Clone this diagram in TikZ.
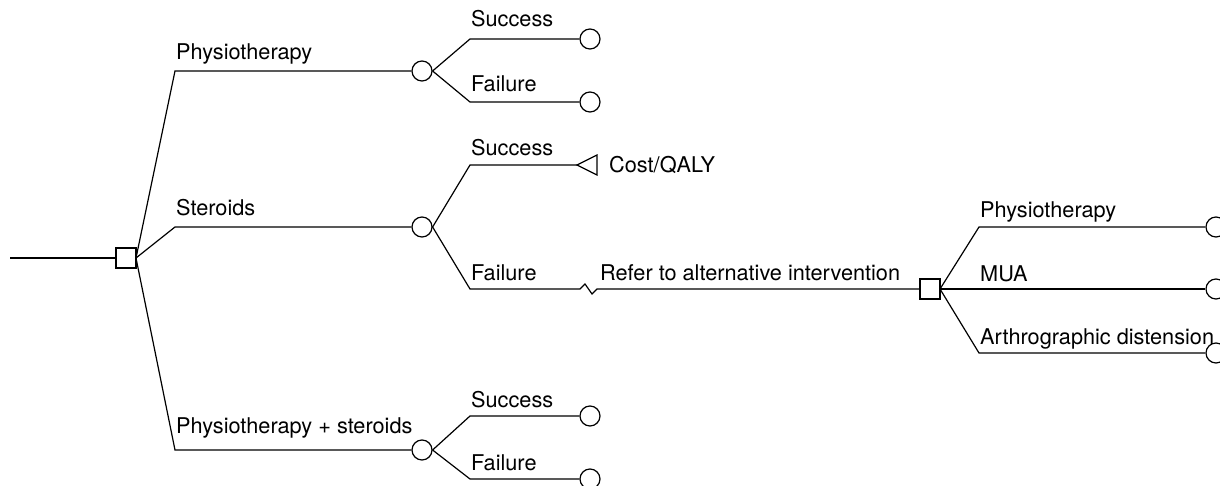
\documentclass[tikz,border=0pt]{standalone}
\usepackage{fontspec}
\setmainfont{TeX Gyre Heros}
\begin{document}
\begin{tikzpicture}[x=1pt,y=-1pt,
  ln/.style={line width=1.2pt},
  chance/.style={circle,draw,line width=1.2pt,minimum size=20pt,inner sep=0pt,fill=white},
  decision/.style={rectangle,draw,line width=1.2pt,minimum size=20pt,inner sep=0pt,fill=white},
  lbl/.style={anchor=base west,inner sep=0pt,font=\fontsize{21.7}{26}\selectfont}]
\useasboundingbox (0,0) rectangle (1220,486);
% root
\coordinate (start) at (10,258);
\node[decision] (d1) at (126,258) {};
\coordinate (r) at (136,258);
% branch bends
\coordinate (b1) at (175,71);
\coordinate (b2) at (175,227);
\coordinate (b3) at (175,450);
\node[chance] (c1) at (422,71) {};
\node[chance] (c2) at (422,227) {};
\node[chance] (c3) at (422,450) {};
% chance 1
\coordinate (c1s) at (470,39);
\coordinate (c1f) at (470,102);
\node[chance] (e1s) at (590,39) {};
\node[chance] (e1f) at (590,102) {};
% chance 2
\coordinate (c2s) at (470,165);
\coordinate (c2f) at (470,289);
\coordinate (tri) at (577,165);
\coordinate (zz) at (580,289);
\node[decision] (d2) at (930,289) {};
% chance 3
\coordinate (c3s) at (470,416);
\coordinate (c3f) at (470,479);
\node[chance] (e3s) at (590,416) {};
\node[chance] (e3f) at (590,479) {};
% decision 2
\coordinate (r2) at (940,289);
\coordinate (q1) at (979,227);
\coordinate (q2) at (979,289);
\coordinate (q3) at (979,353);
\node[chance] (g1) at (1216,227) {};
\node[chance] (g2) at (1216,289) {};
\node[chance] (g3) at (1216,353) {};

% connectors
\draw[ln] (start) -- (d1.west);
\draw[ln] (r) -- (b1) -- (c1.west);
\draw[ln] (r) -- (b2) -- (c2.west);
\draw[ln] (r) -- (b3) -- (c3.west);
\draw[ln] (c1.east) -- (c1s) -- (e1s.west);
\draw[ln] (c1.east) -- (c1f) -- (e1f.west);
\draw[ln] (c2.east) -- (c2s) -- (tri);
\draw[ln,line join=miter] (tri) -- ++(20,-10) -- ++(0,20) -- cycle;
\draw[ln] (c2.east) -- (c2f) -- (zz) -- ++(5,-5) -- ++(7,10) -- ++(5,-5) -- (d2.west);
\draw[ln] (c3.east) -- (c3s) -- (e3s.west);
\draw[ln] (c3.east) -- (c3f) -- (e3f.west);
\draw[ln] (r2) -- (q1) -- (g1.west);
\draw[ln] (r2) -- (q2) -- (g2.west);
\draw[ln] (r2) -- (q3) -- (g3.west);
\node[decision] at (d1) {};
\node[decision] at (d2) {};

% labels
\node[lbl] (t1) at (176,60) {Physiotherapy};
\node[lbl] (t2) at (176,216) {Steroids};
\node[lbl] (t3) at (176,433) {Physiotherapy + steroids};
\node[lbl] (t4) at (471,27) {Success};
\node[lbl] (t5) at (471,92) {Failure};
\node[lbl] (t6) at (471,156) {Success};
\node[lbl] (t7) at (471,280) {Failure};
\node[lbl] (t8) at (471,407) {Success};
\node[lbl] (t9) at (471,470) {Failure};
\node[lbl,anchor=west] (t10) at (609,165) {Cost/QALY};
\node[lbl] (t11) at (600,280) {Refer to alternative intervention};
\node[lbl] (t12) at (980,218) {Physiotherapy};
\node[lbl] (t13) at (980,281) {MUA};
\node[lbl] (t14) at (980,344) {Arthrographic distension};
\end{tikzpicture}
\end{document}
